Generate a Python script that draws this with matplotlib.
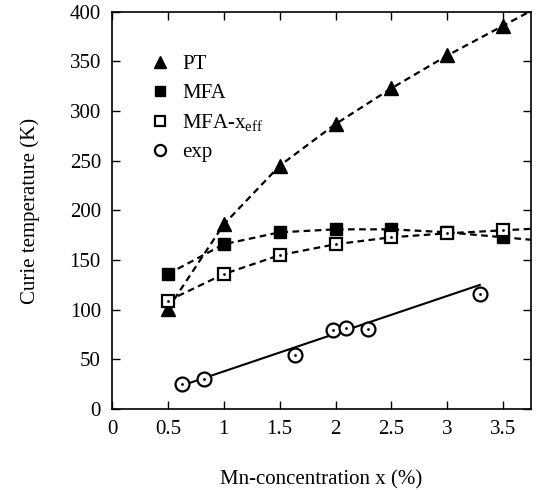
import numpy as np
import matplotlib
matplotlib.use("Agg")
import matplotlib.pyplot as plt

plt.rcParams['font.family'] = ['Liberation Serif', 'DejaVu Serif']
plt.rcParams['mathtext.fontset'] = 'custom'
plt.rcParams['mathtext.rm'] = 'Liberation Serif'
plt.rcParams['mathtext.it'] = 'Liberation Serif'

# calculated Curie temperatures
x_calc = [0.5, 1.0, 1.5, 2.0, 2.5, 3.0, 3.5]
tc_pt = [101, 186, 245, 287, 323, 356, 386]
tc_mfa = [136, 166, 178, 181, 181, 178, 173]
tc_mfa_eff = [109, 136, 155, 166, 173, 177, 180]

# measured values and the straight line drawn through them
x_exp = [0.63, 0.82, 1.64, 1.98, 2.09, 2.29, 3.29]
tc_exp = [25, 30, 55, 80, 82, 81, 116]
fit_slope = 38.0
fit_icpt = 0.0

xmax = 3.75

fig = plt.figure(figsize=(5.36, 4.90), dpi=100)
ax = fig.add_axes([0.209, 0.165, 0.782, 0.811])

dash = (0, (3, 2))


def extend(x, y):
    # carry the last segment on to the right edge of the axes
    slope = (y[-1] - y[-2]) / (x[-1] - x[-2])
    return list(x) + [xmax], list(y) + [y[-1] + slope * (xmax - x[-1])]


for y in (tc_pt, tc_mfa, tc_mfa_eff):
    xe, ye = extend(x_calc, y)
    ax.plot(xe, ye, color='black', lw=1.6, ls=dash, zorder=2)

xf = np.array([min(x_exp), max(x_exp)])
ax.plot(xf, fit_slope * xf + fit_icpt, color='black', lw=1.5, zorder=2)

ax.plot(x_calc, tc_pt, ls='none', marker='^', ms=10, color='black',
        label='PT', zorder=3)
ax.plot(x_calc, tc_mfa, ls='none', marker='s', ms=9, color='black',
        label='MFA', zorder=3)
ax.plot(x_calc, tc_mfa_eff, ls='none', marker='s', ms=9, mfc='white',
        mec='black', mew=1.6, label='MFA-x$_{\\mathrm{eff}}$', zorder=3)
ax.plot(x_calc, tc_mfa_eff, ls='none', marker='.', ms=2, color='black', zorder=4)
ax.plot(x_exp, tc_exp, ls='none', marker='o', ms=10, mfc='white',
        mec='black', mew=1.6, label='exp', zorder=3)
ax.plot(x_exp, tc_exp, ls='none', marker='.', ms=2, color='black', zorder=4)

ax.set_xlim(0, xmax)
ax.set_ylim(0, 400)
ax.set_xticks(np.arange(0, 3.51, 0.5))
ax.set_xticklabels(['0', '0.5', '1', '1.5', '2', '2.5', '3', '3.5'])
ax.set_yticks(np.arange(0, 401, 50))
ax.tick_params(direction='in', top=True, right=True, length=6, width=1,
               labelsize=15, pad=8)
for s in ax.spines.values():
    s.set_linewidth(1.2)

ax.set_ylabel('Curie temperature (K)', fontsize=15, labelpad=21)
ax.set_xlabel('Mn-concentration x (%)', fontsize=15, labelpad=22)

ax.legend(loc='upper left', bbox_to_anchor=(0.046, 0.94), frameon=False,
          handlelength=1.0, handletextpad=0.55, labelspacing=0.45,
          fontsize=15, markerscale=0.8)

fig.savefig('out.png', dpi=100)
